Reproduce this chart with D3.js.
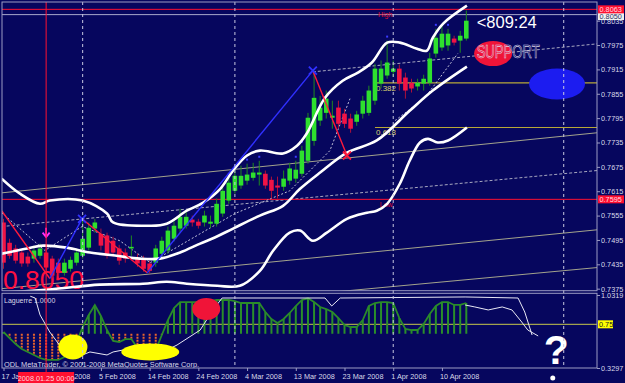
<!DOCTYPE html>
<html>
<head>
<meta charset="utf-8">
<script src="https://cdn.jsdelivr.net/npm/d3@7"></script>
<style>
  body { margin: 0; background: #06065e; }
  svg { display: block; }
</style>
</head>
<body>
<div id="chart"></div>
<script>
"use strict";

// ---- data ----
const priceTicks = [0.8035, 0.7975, 0.7915, 0.7855, 0.7795, 0.7735, 0.7675, 0.7615, 0.7555, 0.7495, 0.7435, 0.7375];
const dateIdx = [0, 8, 16, 24, 32, 40, 48, 56, 64, 72];
const dateLabels = ["17 Jan 2008", "27 Jan 2008", "5 Feb 2008", "14 Feb 2008", "24 Feb 2008",
  "4 Mar 2008", "13 Mar 2008", "23 Mar 2008", "1 Apr 2008", "10 Apr 2008"];
const monthIdx = [13, 38, 64, 92];
const cursorIdx = 7;
const cursorLabel = "2008.01.25 00:00";

const opens = [.7538,.7488,.7474,.7464,.7454,.7449,.7456,.7464,.7449,.7439,
  .7414,.7424,.7439,.7456,.7476,.7523,.7510,.7506,.7493,.7474,
  .7464,.7474,.7451,.7449,.7437,.7439,.7461,.7469,.7498,.7523,
  .7530,.7545,.7540,.7538,.7535,.7535,.7560,.7592,.7616,.7629,
  .7641,.7648,.7656,.7658,.7643,.7629,.7626,.7641,.7646,.7658,
  .7690,.7739,.7789,.7808,.7796,.7821,.7806,.7794,.7786,.7806,
  .7808,.7838,.7880,.7900,.7909,.7917,.7895,.7882,.7873,.7880,
  .7882,.7954,.7969,.7974,.7991,.7986,.7991];
const highs = [.7547,.7498,.7483,.7471,.7464,.7481,.7486,.7474,.7456,.7449,
  .7449,.7454,.7474,.7547,.7538,.7547,.7523,.7513,.7503,.7483,
  .7474,.7506,.7461,.7456,.7444,.7483,.7503,.7528,.7542,.7572,
  .7567,.7555,.7547,.7567,.7555,.7597,.7626,.7648,.7678,.7678,
  .7683,.7685,.7690,.7666,.7651,.7651,.7666,.7685,.7690,.7727,
  .7808,.7912,.7850,.7863,.7838,.7838,.7818,.7806,.7813,.7850,
  .7875,.7929,.7937,.7986,.7937,.7927,.7907,.7892,.7892,.7902,
  .7956,.8015,.8023,.8015,.7998,.8010,.8060];
const lows = [.7424,.7449,.7437,.7429,.7429,.7439,.7449,.7419,.7400,.7405,
  .7407,.7417,.7432,.7449,.7469,.7513,.7469,.7449,.7454,.7434,
  .7439,.7456,.7429,.7417,.7412,.7429,.7454,.7461,.7491,.7513,
  .7523,.7528,.7523,.7528,.7525,.7528,.7552,.7584,.7609,.7621,
  .7631,.7641,.7629,.7621,.7597,.7597,.7616,.7631,.7636,.7651,
  .7683,.7727,.7776,.7794,.7769,.7769,.7771,.7759,.7776,.7794,
  .7801,.7828,.7868,.7892,.7897,.7863,.7843,.7858,.7863,.7863,
  .7875,.7944,.7961,.7961,.7974,.7956,.7986];
const closes = [.7439,.7456,.7444,.7437,.7437,.7469,.7474,.7427,.7407,.7414,
  .7439,.7446,.7464,.7498,.7525,.7538,.7481,.7456,.7464,.7444,
  .7449,.7478,.7437,.7424,.7419,.7474,.7493,.7518,.7530,.7552,
  .7552,.7538,.7530,.7555,.7540,.7584,.7616,.7636,.7653,.7653,
  .7656,.7661,.7661,.7629,.7616,.7624,.7646,.7671,.7668,.7715,
  .7796,.7845,.7821,.7843,.7801,.7781,.7781,.7769,.7804,.7838,
  .7863,.7917,.7917,.7932,.7917,.7880,.7863,.7868,.7882,.7892,
  .7942,.7993,.8003,.8003,.7981,.7998,.8035];

// bands: [bar index, price]
const bandUpper = [[-0.3,.7646],[2.7,.7609],[6.0,.7584],[7.6,.7592],[13.0,.7592],[17.0,.7560],[18.0,.7538],
  [24.0,.7530],[26.8,.7535],[30.1,.7567],[32.8,.7587],[35.6,.7621],[37.7,.7666],[40.0,.7703],[42.1,.7715],
  [45.9,.7708],[48.2,.7727],[49.8,.7757],[52.8,.7845],[55.7,.7887],[58.2,.7907],[60.5,.7932],[63.0,.7981],
  [65.1,.7981],[67.9,.7966],[69.5,.7961],[70.5,.7993],[72.2,.8028],[76.1,.8072]];
const bandMiddle = [[-0.3,.7461],[3.9,.7474],[6.5,.7481],[10.4,.7476],[14.2,.7464],[18.6,.7456],[22.4,.7449],
  [25.7,.7449],[29.0,.7464],[32.3,.7486],[34.7,.7501],[37.7,.7523],[42.1,.7555],[45.9,.7579],[48.7,.7621],
  [52.0,.7661],[56.4,.7710],[61.3,.7740],[66.7,.7813],[70.5,.7863],[76.1,.7922]];
const bandLower = [[-0.3,.7365],[7.6,.7373],[15.8,.7385],[22.9,.7387],[26.8,.7392],[30.1,.7387],[35.1,.7382],
  [38.8,.7382],[42.1,.7419],[44.3,.7469],[47.0,.7513],[48.7,.7518],[50.8,.7493],[53.1,.7513],[56.4,.7547],
  [59.7,.7562],[61.3,.7567],[63.0,.7584],[65.1,.7634],[66.7,.7690],[68.4,.7735],[69.7,.7744],[71.3,.7735],
  [73.0,.7740],[76.1,.7772]];

// channel lines: [start index, start price, end index, end price]
const channelSolid = [[-0.3, .7611, 97.5, .7759], [-0.3, .7375, 97.5, .7520], [48.7, .7359, 97.5, .7427]];
const channelDashed = [[-0.3, .7528, 97.5, .7666], [50.8, .7909, 97.5, .7978]];
const dotLines = [
  [[-0.3,.7562],[6.8,.7469],[12.9,.7528],[19.1,.7493],[24.1,.7439]],
  [[24.1,.7439],[38,.7560],[47,.7616],[53.6,.7715],[56.9,.7843]],
  [[64.3,.7789],[69.2,.7845],[74.6,.7954]]
];

// zigzag pivots [index, price]
const zigzag = [[-0.3,.7567],[7.6,.7400],[12.9,.7547],[23.6,.7414],[50.8,.7912],[56.4,.7703]];
const fractalIdx = [37, 40, 42, 48, 49, 63, 71, 73];
const arrowMark = [7, .7513];

const highLine = 0.8063, lowLine = 0.7595, bidLine = 0.8050;
const fibStart = 61;
const fibLevels = [0.7882, 0.7772];
const fibLabels = ["0.382", "0.618"];
const highLabelIdx = 61.5, lowLabelIdx = 61.8;

// notes drawn on the chart [index, price]
const bigPriceNote = [-0.1, .7375];
const timeNote = [77.7, .8018];
const supportNote = [77.7, .7944];
const redOval = [80.4, .7954];
const blueOval = [90.9, .7879];

// Laguerre indicator
const laguerre = [0.676,0.618,0.56,0.512,0.484,0.455,0.426,0.407,0.407,0.407,
  0.436,0.503,0.58,0.724,0.84,0.936,0.83,0.695,0.59,0.58,
  0.608,0.608,0.522,0.436,0.426,0.503,0.647,0.791,0.907,0.964,
  0.964,0.964,0.964,0.964,0.974,0.984,0.984,0.984,0.974,0.955,
  0.955,0.955,0.955,0.868,0.801,0.762,0.801,0.859,0.926,0.984,
  1.0,0.964,0.916,0.897,0.868,0.81,0.743,0.724,0.724,0.791,
  0.926,0.955,0.964,0.964,0.955,0.81,0.705,0.695,0.695,0.753,
  0.849,0.926,0.964,0.964,0.936,0.936,0.955];
const histBase = 0.66;
const indLevel = 0.75;
const indTicks = [1.0319, 0.3297];
const whiteA = [[4.4,1.02],[5.2,1.003],[6.0,0.84],[7.6,0.676],[9.8,0.503],[11.7,0.426],[14.2,0.484],[17.0,0.455],
  [18.0,0.484],[21.3,0.522],[24.5,0.426],[26.2,0.484],[28.5,0.551],[32.3,0.695],[34.4,0.888],[35.9,1.003],
  [52.8,1.003],[53.9,0.926],[55.3,1.003],[75.8,1.013],[84.5,1.003],[85.6,0.868],[86.8,0.647]];
const whiteB = [[75.8,0.936],[77.4,0.917],[79.6,0.888],[81.9,0.917],[83.5,0.888],[85.1,0.772],[86.1,0.695],[87.8,0.638]];
const yellowOvals = [[11.4, 0.532], [24.1, 0.484]];
const redOvalInd = [33.3, 0.897];
const questionNote = [88.7, 0.37];

// ---- layout ----
const width = 625, height = 383;
const left = 2, right = 597;
const mainTop = 2, mainBottom = 290.7, indTop = 293.3, indBottom = 368;

const x = d3.scaleLinear().domain([0, 76]).range([3.5, 466.3]);
const y = d3.scaleLinear().domain([0.7375, 0.8035]).range([288.66, 20.7]);
const iy = d3.scaleLinear().domain([0.3297, 1.0319]).range([368, 295]);

const bg = "#06065e", border = "#9c9cc4", txt = "#d8d8e8";
const upBody = "#2ee02e", upWick = "#1f8a1f", dnBody = "#f01446", dnWick = "#b0103a";
const font = "'Liberation Sans', Arial, sans-serif";

const svg = d3.select("#chart").append("svg")
  .attr("width", width).attr("height", height)
  .style("font-family", font);

svg.append("rect").attr("width", width).attr("height", height).attr("fill", bg);

const defs = svg.append("defs");
defs.append("clipPath").attr("id", "clipMain").append("rect")
  .attr("x", left).attr("y", mainTop).attr("width", right - left).attr("height", mainBottom - mainTop);
defs.append("clipPath").attr("id", "clipInd").append("rect")
  .attr("x", left).attr("y", indTop).attr("width", right - left).attr("height", indBottom - indTop);

const main = svg.append("g").attr("clip-path", "url(#clipMain)");
const ind = svg.append("g").attr("clip-path", "url(#clipInd)");

// channel lines
main.selectAll("line.ch").data(channelSolid).join("line")
  .attr("x1", d => x(d[0])).attr("y1", d => y(d[1]))
  .attr("x2", d => x(d[2])).attr("y2", d => y(d[3]))
  .attr("stroke", "#a4a48c").attr("stroke-width", 1);
main.selectAll("line.chd").data(channelDashed).join("line")
  .attr("x1", d => x(d[0])).attr("y1", d => y(d[1]))
  .attr("x2", d => x(d[2])).attr("y2", d => y(d[3]))
  .attr("stroke", "#a8a8c0").attr("stroke-width", 1).attr("stroke-dasharray", "3,2");

// horizontal price lines
main.append("line").attr("x1", left).attr("x2", right)
  .attr("y1", y(highLine)).attr("y2", y(highLine)).attr("stroke", "#ff1030");
main.append("line").attr("x1", left).attr("x2", right)
  .attr("y1", y(bidLine)).attr("y2", y(bidLine)).attr("stroke", "#a8a8cc");
main.append("line").attr("x1", left).attr("x2", right)
  .attr("y1", y(lowLine)).attr("y2", y(lowLine)).attr("stroke", "#ff1030");

main.selectAll("line.fib").data(fibLevels).join("line")
  .attr("x1", x(fibStart)).attr("x2", right)
  .attr("y1", d => y(d)).attr("y2", d => y(d))
  .attr("stroke", "#b8a838").attr("stroke-width", 1.2);
main.selectAll("text.fib").data(fibLevels).join("text")
  .attr("x", x(fibStart) + 1).attr("y", d => y(d) + 8)
  .attr("fill", "#d8d070").attr("font-size", 8).text((d, i) => fibLabels[i]);

main.append("text").attr("x", x(highLabelIdx)).attr("y", y(highLine) + 7.5)
  .attr("fill", "#e01030").attr("font-size", 7).text("High");
main.append("text").attr("x", x(lowLabelIdx)).attr("y", y(lowLine) + 8)
  .attr("fill", "#e01030").attr("font-size", 7).text("Low");

// big red price note behind the candles
main.append("text").attr("x", x(bigPriceNote[0])).attr("y", y(bigPriceNote[1]))
  .attr("fill", "#ff1040").attr("font-size", 26.5).text("0.8050");

// dotted helper lines
const pline = d3.line().x(d => x(d[0])).y(d => y(d[1]));
main.selectAll("path.dot").data(dotLines).join("path")
  .attr("d", pline).attr("fill", "none")
  .attr("stroke", "#c0c0d8").attr("stroke-width", 1).attr("stroke-dasharray", "2,2");

// candles
const bars = d3.range(opens.length);
main.selectAll("line.wick").data(bars).join("line")
  .attr("x1", i => x(i)).attr("x2", i => x(i))
  .attr("y1", i => y(highs[i])).attr("y2", i => y(lows[i]))
  .attr("stroke", i => closes[i] >= opens[i] ? upWick : dnWick).attr("stroke-width", 1);
main.selectAll("rect.body").data(bars).join("rect")
  .attr("x", i => x(i) - 2.3).attr("width", 4.6)
  .attr("y", i => y(Math.max(opens[i], closes[i])))
  .attr("height", i => Math.max(1.5, Math.abs(y(opens[i]) - y(closes[i]))))
  .attr("fill", i => closes[i] >= opens[i] ? upBody : dnBody);

// fractal ticks
main.selectAll("rect.frac").data(fractalIdx).join("rect")
  .attr("x", i => x(i) - 1).attr("y", i => y(highs[i]) - 5)
  .attr("width", 2).attr("height", 2).attr("fill", "#3a3aff");

// bands
const curve = d3.line().x(d => x(d[0])).y(d => y(d[1])).curve(d3.curveCatmullRom);
main.selectAll("path.band").data([bandUpper, bandMiddle, bandLower]).join("path")
  .attr("d", curve).attr("fill", "none")
  .attr("stroke", "#ffffff").attr("stroke-width", 2.6).attr("stroke-linejoin", "round");

// zigzag
const segs = d3.pairs(zigzag);
main.selectAll("line.zz").data(segs).join("line")
  .attr("x1", d => x(d[0][0])).attr("y1", d => y(d[0][1]))
  .attr("x2", d => x(d[1][0])).attr("y2", d => y(d[1][1]))
  .attr("stroke", d => d[1][1] > d[0][1] ? "#3030ff" : "#ff1a3c").attr("stroke-width", 1.4);
const cross = (g, p, col) => g.append("path")
  .attr("transform", `translate(${x(p[0])},${y(p[1])})`)
  .attr("d", "M-4,-4L4,4M-4,4L4,-4").attr("stroke", col).attr("stroke-width", 1.8);
cross(main, zigzag[2], "#3030ff");
cross(main, zigzag[4], "#3030ff");
cross(main, zigzag[5], "#ff1a3c");

main.append("path")
  .attr("transform", `translate(${x(arrowMark[0])},${y(arrowMark[1])})`)
  .attr("d", "M0,-5L0,4M-3.5,0L0,4.5L3.5,0").attr("fill", "none")
  .attr("stroke", "#ff30ff").attr("stroke-width", 1.8);

// hand-drawn notes
main.append("ellipse").attr("cx", x(redOval[0])).attr("cy", y(redOval[1]))
  .attr("rx", 19).attr("ry", 12.5).attr("fill", "#f01438");
main.append("ellipse").attr("cx", x(blueOval[0])).attr("cy", y(blueOval[1]))
  .attr("rx", 28).attr("ry", 15.5).attr("fill", "#1c1cf0");
main.append("text").attr("x", x(timeNote[0])).attr("y", y(timeNote[1]))
  .attr("fill", "#ffffff").attr("font-size", 16.5).text("<809:24");
main.append("text").attr("x", x(supportNote[0])).attr("y", y(supportNote[1]))
  .attr("fill", "none").attr("stroke", "#dcd6e8").attr("stroke-width", 0.6)
  .attr("font-size", 19).attr("textLength", 63).attr("lengthAdjust", "spacingAndGlyphs")
  .text("SUPPORT");

// ---- indicator panel ----
ind.append("line").attr("x1", left).attr("x2", right)
  .attr("y1", iy(indLevel)).attr("y2", iy(indLevel)).attr("stroke", "#c8c84a");

ind.selectAll("line.hist").data(bars).join("line")
  .attr("x1", i => x(i)).attr("x2", i => x(i))
  .attr("y1", iy(histBase)).attr("y2", i => iy(laguerre[i]))
  .attr("stroke", i => laguerre[i] >= histBase ? "#2a8f2a" : "#e8642c")
  .attr("stroke-width", 2)
  .attr("stroke-dasharray", i => laguerre[i] >= histBase ? null : "2,1");

ind.append("path").datum(laguerre)
  .attr("d", d3.line().x((d, i) => x(i)).y(d => iy(d)))
  .attr("fill", "none").attr("stroke", "#2a8a2a").attr("stroke-width", 1.8);

const iline = d3.line().x(d => x(d[0])).y(d => iy(d[1]));
ind.selectAll("path.w").data([whiteA, whiteB]).join("path")
  .attr("d", iline).attr("fill", "none").attr("stroke", "#e8e8f4").attr("stroke-width", 1);

ind.selectAll("ellipse.y").data(yellowOvals).join("ellipse")
  .attr("cx", d => x(d[0])).attr("cy", d => iy(d[1]))
  .attr("rx", (d, i) => i ? 29 : 14.5).attr("ry", (d, i) => i ? 8.5 : 12.5)
  .attr("fill", "#ffff00");
ind.append("ellipse").attr("cx", x(redOvalInd[0])).attr("cy", iy(redOvalInd[1]))
  .attr("rx", 14).attr("ry", 11).attr("fill", "#f01438");

ind.append("text").attr("x", 4).attr("y", indTop + 9.5)
  .attr("fill", txt).attr("font-size", 7).text("Laguerre 1.0000");
ind.append("text").attr("x", 4).attr("y", indBottom - 1.5)
  .attr("fill", txt).attr("font-size", 7.4).text("ODL MetaTrader, © 2001-2008 MetaQuotes Software Corp.");
ind.append("text").attr("x", x(questionNote[0])).attr("y", iy(questionNote[1]))
  .attr("fill", "#ffffff").attr("font-size", 41).attr("font-weight", "bold").text("?");

// month separators and cursor
svg.selectAll("line.grid").data(monthIdx).join("line")
  .attr("x1", i => x(i)).attr("x2", i => x(i))
  .attr("y1", mainTop).attr("y2", indBottom)
  .attr("stroke", "#c8c8e0").attr("stroke-dasharray", "3,3");
svg.append("line").attr("x1", x(cursorIdx)).attr("x2", x(cursorIdx))
  .attr("y1", mainTop).attr("y2", indBottom + 4).attr("stroke", "#ff1030");

// frames
svg.append("rect").attr("x", left).attr("y", mainTop)
  .attr("width", right - left).attr("height", mainBottom - mainTop)
  .attr("fill", "none").attr("stroke", border);
svg.append("rect").attr("x", left).attr("y", indTop)
  .attr("width", right - left).attr("height", indBottom - indTop)
  .attr("fill", "none").attr("stroke", border);

// price axis
svg.append("g").attr("transform", `translate(${right},0)`)
  .call(d3.axisRight(y).tickValues(priceTicks).tickFormat(d3.format(".4f")).tickSize(3).tickPadding(1))
  .attr("font-family", font).attr("font-size", 7.3)
  .call(g => g.select(".domain").remove())
  .call(g => g.selectAll("line").attr("stroke", border))
  .call(g => g.selectAll("text").attr("fill", txt));

svg.append("g").attr("transform", `translate(${right},0)`)
  .call(d3.axisRight(iy).tickValues(indTicks).tickFormat(d3.format(".4f")).tickSize(3).tickPadding(1))
  .attr("font-family", font).attr("font-size", 7.3)
  .call(g => g.select(".domain").remove())
  .call(g => g.selectAll("line").attr("stroke", border))
  .call(g => g.selectAll("text").attr("fill", txt));

// highlighted price boxes
const tag = (val, yy, fill, col) => {
  svg.append("rect").attr("x", right + 1).attr("y", yy - 4).attr("width", 26).attr("height", 8).attr("fill", fill);
  svg.append("text").attr("x", right + 2.5).attr("y", yy + 2.6)
    .attr("fill", col).attr("font-size", 7.3).text(d3.format(".4f")(val));
};
tag(bidLine, y(bidLine) + 1.5, "#f0f0f0", "#303060");
tag(highLine, y(highLine), "#ff1030", "#ffd8e0");
tag(lowLine, y(lowLine), "#ff1030", "#ffd8e0");
svg.append("rect").attr("x", right + 1).attr("y", iy(indLevel) - 4).attr("width", 15).attr("height", 8).attr("fill", "#ffff00");
svg.append("text").attr("x", right + 2).attr("y", iy(indLevel) + 2.6)
  .attr("fill", "#202020").attr("font-size", 7.3).text("0.75");

// date axis
svg.append("g").attr("transform", `translate(0,${indBottom})`)
  .call(d3.axisBottom(x).tickValues(dateIdx).tickFormat((d, i) => dateLabels[i]).tickSize(3).tickPadding(2.5))
  .attr("font-family", font).attr("font-size", 7.3)
  .call(g => g.select(".domain").remove())
  .call(g => g.selectAll("line").attr("stroke", border))
  .call(g => g.selectAll("text").attr("fill", txt).attr("text-anchor", "start").attr("x", -2.5));

svg.append("rect").attr("x", x(cursorIdx) - 28).attr("y", 372).attr("width", 56).attr("height", 11).attr("fill", "#ff1030");
svg.append("text").attr("x", x(cursorIdx)).attr("y", 380.5).attr("text-anchor", "middle")
  .attr("fill", "#ffd0dc").attr("font-size", 7.3).text(cursorLabel);

svg.append("circle").attr("cx", x(90.2)).attr("cy", 378).attr("r", 2.5).attr("fill", "#ffffff");
</script>
</body>
</html>
